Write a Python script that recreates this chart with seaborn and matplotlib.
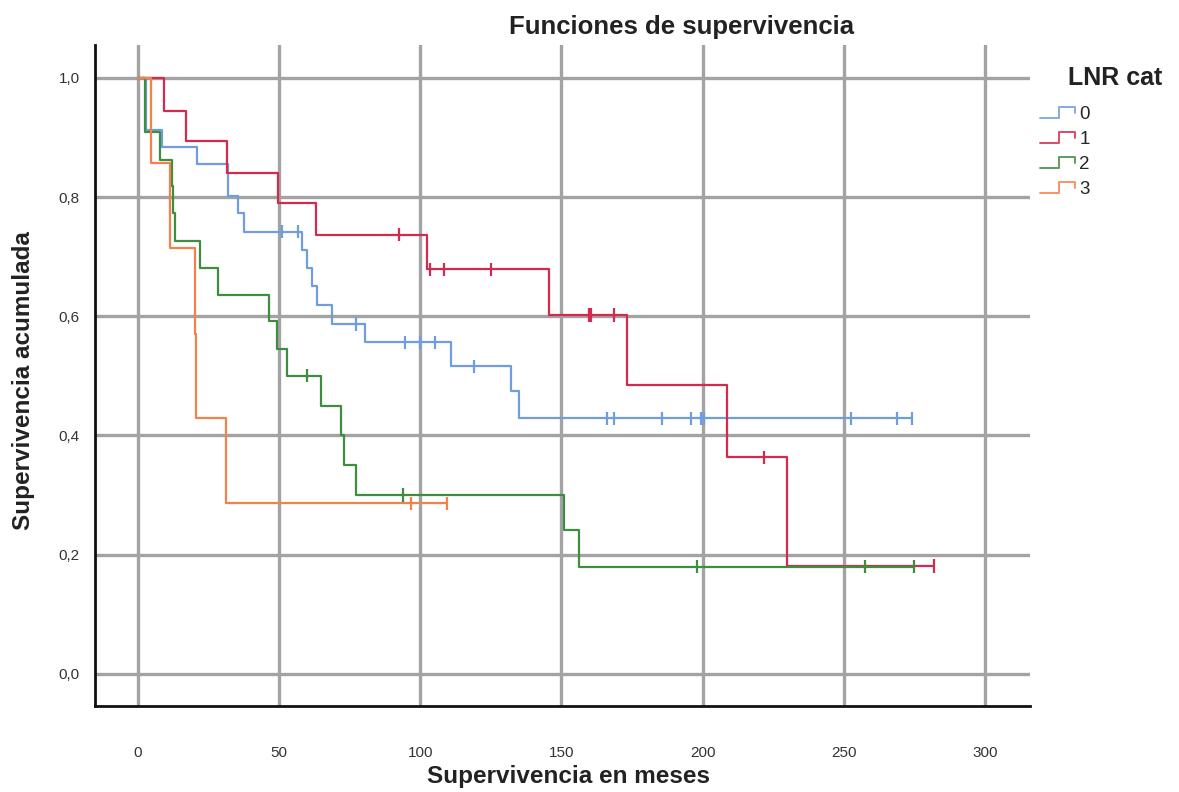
import numpy as np
import pandas as pd
import seaborn as sns
import matplotlib
matplotlib.use("Agg")
import matplotlib.pyplot as plt
from matplotlib.lines import Line2D
from matplotlib.legend_handler import HandlerBase

# Kaplan-Meier curves (months / cumulative survival)
GROUPS = ["0", "1", "2", "3"]

# group 0
T0 = [3.0, 8.4, 20.8, 31.8, 35.6, 37.6, 58.0, 59.8, 61.5, 63.6, 68.7, 80.5, 110.9, 132.1, 134.9]
S0 = [0.912, 0.884, 0.855, 0.801, 0.773, 0.742, 0.711, 0.681, 0.650, 0.619, 0.587, 0.556, 0.516, 0.475, 0.429]
C0 = [51.0, 56.7, 77.3, 94.7, 100.0, 105.3, 118.9, 166.0, 168.6, 185.7, 196.0, 199.3, 200.7, 252.7, 268.8, 274.3]

# group 1
T1 = [9.3, 17.0, 31.4, 49.6, 63.0, 102.4, 145.5, 173.3, 208.5, 229.8]
S1 = [0.945, 0.894, 0.841, 0.790, 0.737, 0.679, 0.602, 0.485, 0.363, 0.181]
C1 = [92.6, 103.3, 108.3, 125.2, 159.7, 160.5, 168.5, 221.7, 282.0]

# group 2
T2 = [2.5, 7.8, 12.0, 12.5, 13.0, 22.0, 28.2, 46.4, 49.4, 52.9, 64.8, 71.9, 73.0, 77.2, 150.8, 156.2]
S2 = [0.909, 0.862, 0.818, 0.773, 0.727, 0.681, 0.636, 0.592, 0.545, 0.500, 0.450, 0.401, 0.351, 0.300, 0.242, 0.180]
C2 = [60.0, 93.9, 198.0, 257.5, 275.0]

# group 3
T3 = [4.6, 11.3, 20.2, 20.6, 31.2]
S3 = [0.857, 0.714, 0.571, 0.429, 0.286]
C3 = [96.7, 109.4]

X_TICKS = [0, 50, 100, 150, 200, 250, 300]
Y_TICKS = [0.0, 0.2, 0.4, 0.6, 0.8, 1.0]
Y_TICK_LABELS = ["0,0", "0,2", "0,4", "0,6", "0,8", "1,0"]

COLORS = {"0": "#6f9ddf", "1": "#d42a4e", "2": "#3f8d3f", "3": "#f5814a"}


class StepHandler(HandlerBase):
    """Little step glyph for the legend, like SPSS draws it."""
    def create_artists(self, legend, orig_handle, xdescent, ydescent, width, height, fontsize, trans):
        xs = np.array([0, 0.5, 0.5, 0.95, 0.95]) * width - xdescent
        ys = np.array([0.1, 0.1, 0.9, 0.9, 0.45]) * height - ydescent
        line = Line2D(xs, ys, color=orig_handle.get_color(), lw=1.4, alpha=0.85)
        line.set_transform(trans)
        return [line]


def build_frames():
    curves, censors = [], []
    for g, T, S, C in zip(GROUPS, [T0, T1, T2, T3], [S0, S1, S2, S3], [C0, C1, C2, C3]):
        end = max(max(C), max(T))
        xs = [0.0] + T + [end]
        ys = [1.0] + S + [S[-1]]
        curves.append(pd.DataFrame({"t": xs, "s": ys, "grp": g}))
        levels = np.array([1.0] + S)
        idx = np.searchsorted(np.array(T), np.array(C), side="right")
        censors.append(pd.DataFrame({"t": C, "s": levels[idx], "grp": g}))
    return pd.concat(curves, ignore_index=True), pd.concat(censors, ignore_index=True)


sns.set_theme(style="white")
plt.rcParams["font.family"] = ["Liberation Sans", "DejaVu Sans"]

df, cens = build_frames()

fig = plt.figure(figsize=(11.79, 7.92), dpi=100)
ax = fig.add_axes([0.0806, 0.1086, 0.7930, 0.8345])

sns.lineplot(data=df, x="t", y="s", hue="grp", palette=COLORS, estimator=None,
             sort=False, drawstyle="steps-post", lw=1.6, legend=False, ax=ax)
sns.scatterplot(data=cens, x="t", y="s", hue="grp", palette=COLORS, marker="|",
                s=90, linewidth=1.6, legend=False, ax=ax, zorder=3)

ax.set_xlim(-15.2, 316)
ax.set_ylim(-0.054, 1.055)
ax.set_xticks(X_TICKS)
ax.set_yticks(Y_TICKS)
ax.set_yticklabels(Y_TICK_LABELS)
ax.grid(True, color="#a3a3a3", lw=2.4)
ax.set_axisbelow(True)
ax.tick_params(length=0, labelsize=11, labelcolor="#333333")
ax.tick_params(axis="x", pad=29)
ax.tick_params(axis="y", pad=11)
for side in ["top", "right"]:
    ax.spines[side].set_visible(False)
for side in ["left", "bottom"]:
    ax.spines[side].set_color("#111111")
    ax.spines[side].set_linewidth(2)

ax.set_xlabel("Supervivencia en meses", fontsize=17.5, fontweight="bold", color="#222222")
ax.xaxis.set_label_coords(0.506, -0.09)
ax.set_ylabel("Supervivencia acumulada", fontsize=17.5, fontweight="bold", color="#222222")
ax.yaxis.set_label_coords(-0.064, 0.493)
fig.text(0.578, 0.966, "Funciones de supervivencia", ha="center", va="center",
         fontsize=18.5, fontweight="bold", color="#222222")

# legend on the right, title drawn apart so it sits like the original
fig.text(0.946, 0.902, "LNR cat", ha="center", va="center", fontsize=18,
         fontweight="bold", color="#222222")
handles = [Line2D([0], [0], color=COLORS[g]) for g in GROUPS]
fig.legend(handles, GROUPS, handler_map={Line2D: StepHandler()}, loc="upper left",
           bbox_to_anchor=(0.874, 0.878), frameon=False, fontsize=13.5,
           handlelength=2.0, handletextpad=0.1, labelspacing=0.42, borderpad=0)

plt.savefig("out.png", dpi=100)
plt.close()
